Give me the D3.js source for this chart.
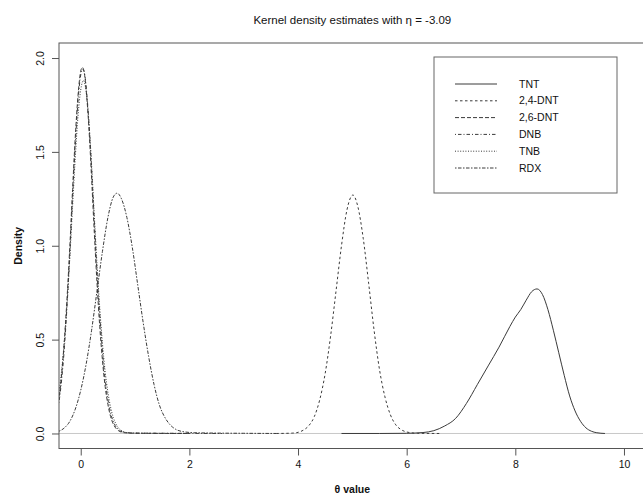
<!DOCTYPE html>
<html>
<head>
<meta charset="utf-8">
<script src="https://cdn.jsdelivr.net/npm/d3@7"></script>
<style>
  body { margin: 0; background: #fff; }
  svg { display: block; font-family: "Liberation Sans", Arial, sans-serif; }
</style>
</head>
<body>
<svg id="chart"></svg>
<script>
// Series names and line dash patterns (legend order)
const seriesNames = ["TNT", "2,4-DNT", "2,6-DNT", "DNB", "TNB", "RDX"];
const xTicks = [0, 2, 4, 6, 8, 10];
const yTicks = [0, 0.5, 1.0, 1.5, 2.0];
const yTickLabels = ["0.0", "0.5", "1.0", "1.5", "2.0"];

// Density curves, [theta, density]
const tnt = [[4.8, 0], [5.5, 0], [6.0, 0.001], [6.3, 0.005], [6.5, 0.015], [6.7, 0.04], [6.9, 0.08],
  [7.1, 0.16], [7.3, 0.26], [7.5, 0.36], [7.7, 0.46], [7.9, 0.57], [8.0, 0.62], [8.1, 0.66],
  [8.2, 0.71], [8.3, 0.755], [8.4, 0.77], [8.5, 0.74], [8.6, 0.66], [8.7, 0.55], [8.8, 0.43],
  [8.9, 0.31], [9.0, 0.20], [9.1, 0.12], [9.2, 0.065], [9.3, 0.03], [9.4, 0.012], [9.5, 0.004], [9.65, 0]];

const dnt24 = [[3.6, 0], [3.9, 0.002], [4.0, 0.006], [4.1, 0.018], [4.2, 0.042], [4.3, 0.09], [4.4, 0.18],
  [4.5, 0.32], [4.6, 0.52], [4.7, 0.76], [4.8, 1.0], [4.9, 1.19], [5.01, 1.27], [5.1, 1.21],
  [5.2, 1.04], [5.3, 0.80], [5.4, 0.55], [5.5, 0.34], [5.6, 0.195], [5.7, 0.10], [5.8, 0.046],
  [5.9, 0.02], [6.0, 0.008], [6.2, 0.001], [6.6, 0]];

const dnt26 = [[-0.45, 0.14], [-0.4, 0.19], [-0.35, 0.32], [-0.3, 0.50], [-0.25, 0.73], [-0.2, 1.0],
  [-0.15, 1.30], [-0.1, 1.58], [-0.05, 1.80], [0.0, 1.93], [0.03, 1.95], [0.06, 1.93], [0.1, 1.83],
  [0.15, 1.63], [0.2, 1.36], [0.25, 1.07], [0.3, 0.80], [0.35, 0.57], [0.4, 0.39], [0.45, 0.25],
  [0.5, 0.155], [0.55, 0.09], [0.6, 0.05], [0.65, 0.027], [0.7, 0.014], [0.8, 0.004], [0.9, 0.002],
  [1.2, 0.001], [2.0, 0]];

const dnb = [[-0.45, 0.12], [-0.4, 0.17], [-0.35, 0.29], [-0.3, 0.46], [-0.25, 0.69], [-0.2, 0.96],
  [-0.15, 1.26], [-0.1, 1.54], [-0.05, 1.77], [0.0, 1.91], [0.04, 1.94], [0.08, 1.90], [0.12, 1.78],
  [0.17, 1.57], [0.22, 1.30], [0.27, 1.02], [0.32, 0.76], [0.37, 0.55], [0.42, 0.37], [0.47, 0.24],
  [0.52, 0.15], [0.57, 0.088], [0.62, 0.05], [0.7, 0.02], [0.8, 0.006], [1.0, 0.002], [1.6, 0.001], [2.6, 0]];

const tnb = [[-0.45, 0.16], [-0.4, 0.22], [-0.35, 0.34], [-0.3, 0.50], [-0.25, 0.70], [-0.2, 0.94],
  [-0.15, 1.21], [-0.1, 1.47], [-0.05, 1.69], [0.0, 1.83], [0.05, 1.88], [0.1, 1.82], [0.15, 1.66],
  [0.2, 1.43], [0.25, 1.16], [0.3, 0.90], [0.35, 0.67], [0.4, 0.48], [0.45, 0.33], [0.5, 0.22],
  [0.55, 0.14], [0.6, 0.085], [0.65, 0.05], [0.7, 0.028], [0.8, 0.009], [0.9, 0.003], [1.2, 0.001], [2.0, 0]];

const rdx = [[-0.4, 0.012], [-0.3, 0.03], [-0.2, 0.065], [-0.1, 0.13], [0.0, 0.23], [0.1, 0.37],
  [0.2, 0.55], [0.3, 0.76], [0.4, 0.97], [0.5, 1.15], [0.6, 1.26], [0.67, 1.28], [0.75, 1.25],
  [0.85, 1.15], [0.95, 0.99], [1.05, 0.79], [1.15, 0.59], [1.25, 0.41], [1.35, 0.26], [1.45, 0.15],
  [1.55, 0.085], [1.65, 0.045], [1.75, 0.022], [1.9, 0.009], [2.1, 0.004], [2.5, 0.002], [3.0, 0.001], [3.6, 0]];

const seriesData = [tnt, dnt24, dnt26, dnb, tnb, rdx];
const dashes = [null, "2.5,2.5", "4,2", "1,2,3.5,2", "1,1.6", "1.5,1.5,3.5,1.5"];

function DrawDensityChart(targetElem, width, height) {

    const svg = d3.select(targetElem)
        .attr("width", width)
        .attr("height", height);

    svg.selectAll("*").remove();

    // plot region
    const left = 59, right = 645.7, top = 43, bottom = 448.5;

    const x = d3.scaleLinear().domain([-0.4, 10.4]).range([left, right]);
    const y = d3.scaleLinear().domain([-0.08, 2.08]).range([bottom, top]);

    svg.append("clipPath").attr("id", "plot-clip")
        .append("rect")
        .attr("x", left).attr("y", top)
        .attr("width", right - left).attr("height", bottom - top);

    // title
    svg.append("text")
        .attr("x", (left + right) / 2)
        .attr("y", 24)
        .attr("text-anchor", "middle")
        .attr("font-size", 11.5)
        .attr("fill", "#111")
        .text("Kernel density estimates with \u03B7 = -3.09");

    // zero line
    svg.append("line")
        .attr("x1", left).attr("x2", right)
        .attr("y1", y(0)).attr("y2", y(0))
        .attr("stroke", "#c8c8c8")
        .attr("stroke-width", 1);

    // density lines
    const line = d3.line()
        .x(d => x(d[0]))
        .y(d => y(d[1]))
        .curve(d3.curveMonotoneX);

    svg.append("g")
        .attr("clip-path", "url(#plot-clip)")
        .selectAll("path")
        .data(seriesData)
        .enter()
        .append("path")
        .attr("d", d => line(d))
        .attr("fill", "none")
        .attr("stroke", "#3a3a3a")
        .attr("stroke-width", 1)
        .attr("stroke-dasharray", (d, i) => dashes[i]);

    // frame
    svg.append("rect")
        .attr("x", left).attr("y", top)
        .attr("width", right - left).attr("height", bottom - top)
        .attr("fill", "none")
        .attr("stroke", "#555")
        .attr("stroke-width", 1);

    // x axis
    const xAxis = d3.axisBottom(x)
        .tickValues(xTicks)
        .tickSize(7)
        .tickPadding(5)
        .tickFormat(d3.format("d"));

    const gx = svg.append("g")
        .attr("transform", `translate(0, ${bottom})`)
        .call(xAxis);
    gx.select(".domain").remove();
    gx.selectAll("line").attr("stroke", "#555");
    gx.selectAll("text")
        .attr("font-size", 10.5)
        .attr("font-family", "Liberation Sans, Arial, sans-serif")
        .attr("fill", "#111");

    // y axis
    const yAxis = d3.axisLeft(y)
        .tickValues(yTicks)
        .tickSize(7)
        .tickFormat((d, i) => yTickLabels[i]);

    const gy = svg.append("g")
        .attr("transform", `translate(${left}, 0)`)
        .call(yAxis);
    gy.select(".domain").remove();
    gy.selectAll("line").attr("stroke", "#555");
    gy.selectAll("text")
        .attr("font-size", 10.5)
        .attr("font-family", "Liberation Sans, Arial, sans-serif")
        .attr("fill", "#111")
        .attr("text-anchor", "middle")
        .attr("x", 0)
        .attr("dy", 0)
        .attr("transform", "translate(-15, 0) rotate(-90)");

    // axis titles
    svg.append("text")
        .attr("x", (left + right) / 2)
        .attr("y", 493)
        .attr("text-anchor", "middle")
        .attr("font-size", 10.5)
        .attr("font-weight", "bold")
        .attr("fill", "#111")
        .text("\u03B8 value");

    svg.append("text")
        .attr("transform", `translate(22, ${(top + bottom) / 2}) rotate(-90)`)
        .attr("text-anchor", "middle")
        .attr("font-size", 10.5)
        .attr("font-weight", "bold")
        .attr("fill", "#111")
        .text("Density");

    // legend
    const legend = svg.append("g");
    legend.append("rect")
        .attr("x", 434).attr("y", 57)
        .attr("width", 183).attr("height", 136)
        .attr("fill", "#fff")
        .attr("stroke", "#666")
        .attr("stroke-width", 1);

    const rows = legend.selectAll(".row")
        .data(seriesNames)
        .enter()
        .append("g")
        .attr("class", "row")
        .attr("transform", (d, i) => `translate(0, ${84 + i * 16.8})`);

    rows.append("line")
        .attr("x1", 455).attr("x2", 497)
        .attr("stroke", "#3a3a3a")
        .attr("stroke-width", 1)
        .attr("stroke-dasharray", (d, i) => dashes[i]);

    rows.append("text")
        .attr("x", 519)
        .attr("dy", "0.35em")
        .attr("font-size", 10.5)
        .attr("fill", "#111")
        .text(d => d);
}

DrawDensityChart("#chart", 643, 494);
</script>
</body>
</html>
